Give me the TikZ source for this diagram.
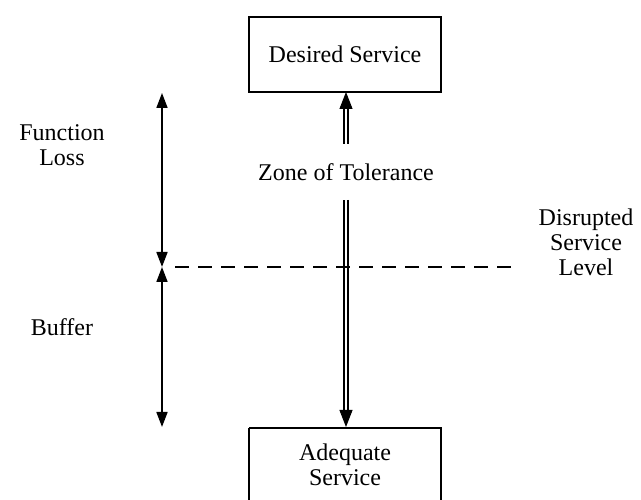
\documentclass[tikz,border=0pt]{standalone}
\usepackage{fontspec}
\setmainfont{Liberation Serif}
\usetikzlibrary{arrows.meta,calc}
\begin{document}
\begin{tikzpicture}[x=1pt,y=1pt,
  lbl/.style={font=\fontsize{24}{25}\selectfont, align=center, inner sep=0pt},
  boxnode/.style={draw, line width=1.7pt, minimum width=192pt, inner sep=0pt, font=\fontsize{24}{25}\selectfont, align=center},
  dbl/.style={double, line width=2pt, double distance=2.8pt},
  bigtip/.style={-{Triangle[length=17pt,width=13pt]}, line width=1pt},
  sglarrow/.style={{Triangle[length=15pt,width=11pt]}-{Triangle[length=15pt,width=11pt]}, line width=1.7pt},
  dashline/.style={dashed, dash pattern=on 14pt off 9pt, line width=2pt}
]
\useasboundingbox (0,0) rectangle (641,500);
\clip (0,0) rectangle (641,500);
\node[boxnode, minimum height=75pt] (ds) at (345,445.5) {Desired Service};
\draw[line width=1.7pt] (249,72) -- (249,-5) (441,-5) -- (441,72) -- (249,72);
\node[lbl] (aqt) at (345,35.5) {Adequate\\Service};
\node[lbl] (zt) at (346,328) {Zone of Tolerance};
% up double arrow
\coordinate (upstart) at (346,356);
\coordinate (upend) at (346,408);
\draw[dbl] (upstart) -- ($(upend)+(0,-15)$);
\draw[bigtip] ($(upend)+(0,-16)$) -- (upend);
% down double arrow
\coordinate (dnstart) at (346,300);
\coordinate (dnend) at (346,73);
\draw[dbl] (dnstart) -- ($(dnend)+(0,15)$);
\draw[bigtip] ($(dnend)+(0,16)$) -- (dnend);
% dashed line
\coordinate (dl) at (175,233);
\coordinate (dr) at (513,233);
\draw[dashline] (dl) -- (dr);
% left arrows
\coordinate (la) at (162,407);
\coordinate (lm) at (162,233);
\coordinate (lb) at (162,73);
\draw[sglarrow] (la) -- (lm);
\draw[sglarrow] (lm) -- (lb);
\node[lbl] (fl) at (62,355) {Function\\Loss};
\node[lbl] (bf) at (62,173) {Buffer};
\node[lbl] (dsl) at (586,258) {Disrupted\\Service\\Level};
\end{tikzpicture}
\end{document}
